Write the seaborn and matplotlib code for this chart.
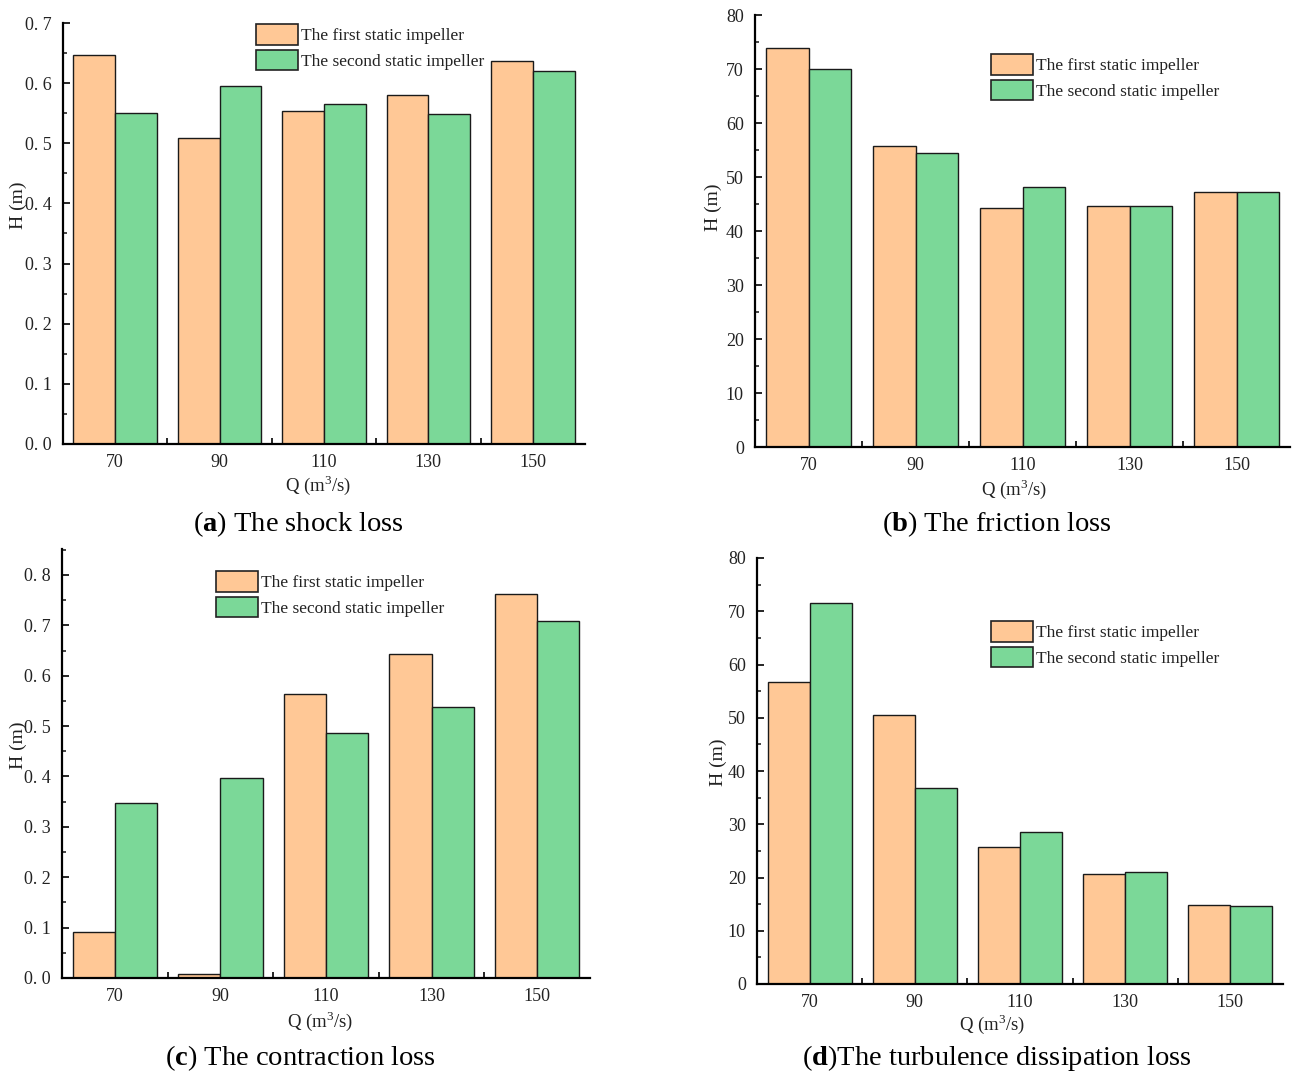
import matplotlib
matplotlib.use("Agg")
import matplotlib.pyplot as plt
from matplotlib.ticker import MultipleLocator, FixedLocator, FuncFormatter
import seaborn as sns
import pandas as pd

# Flow rates (m^3/s)
flow_rates = ["70", "90", "110", "130", "150"]
series_names = ["The first static impeller", "The second static impeller"]

# Head losses H (m) per loss type
shock_first = [0.647, 0.509, 0.553, 0.580, 0.637]
shock_second = [0.550, 0.596, 0.566, 0.549, 0.621]

friction_first = [73.8, 55.8, 44.3, 44.6, 47.15]
friction_second = [69.95, 54.4, 48.2, 44.6, 47.3]

contraction_first = [0.091, 0.008, 0.563, 0.643, 0.762]
contraction_second = [0.348, 0.397, 0.487, 0.538, 0.708]

turbulence_first = [56.7, 50.6, 25.8, 20.6, 14.8]
turbulence_second = [71.5, 36.9, 28.5, 21.0, 14.6]

captions = [
    r"($\mathbf{a}$) The shock loss",
    r"($\mathbf{b}$) The friction loss",
    r"($\mathbf{c}$) The contraction loss",
    r"($\mathbf{d}$)The turbulence dissipation loss",
]

colors = ["#FFC896", "#7BD898"]

sns.set_style("white")
plt.rcParams["font.family"] = ["Liberation Serif", "DejaVu Serif"]
plt.rcParams["mathtext.fontset"] = "custom"
plt.rcParams["mathtext.rm"] = "Liberation Serif"
plt.rcParams["mathtext.bf"] = "Liberation Serif:bold"

fig = plt.figure(figsize=(12.92, 10.72), dpi=100)
W, H = 1292, 1072


def px_axes(left, right, top, bottom):
    return fig.add_axes([left / W, 1 - bottom / H, (right - left) / W, (bottom - top) / H])


def build_frame(first, second):
    return pd.DataFrame({
        "Q": flow_rates * 2,
        "H": list(first) + list(second),
        "series": [series_names[0]] * 5 + [series_names[1]] * 5,
    })


panels = [
    dict(first=shock_first, second=shock_second, box=(63, 585, 23, 444),
         ylim=(0, 0.7), major=0.1, minor=0.05, fmt="dec",
         legend=(256, 24), ylab=(18, 205), xlab=(318, 485), cap=(298, 524)),
    dict(first=friction_first, second=friction_second, box=(755, 1290, 15, 447),
         ylim=(0, 80), major=10, minor=5, fmt="int",
         legend=(991, 54), ylab=(713, 207), xlab=(1014, 489), cap=(997, 524)),
    dict(first=contraction_first, second=contraction_second, box=(62, 590, 549, 978),
         ylim=(0, 0.8516), major=0.1, minor=0.05, fmt="dec",
         legend=(216, 571), ylab=(18, 745), xlab=(320, 1021), cap=(300, 1058)),
    dict(first=turbulence_first, second=turbulence_second, box=(757, 1283, 558, 984),
         ylim=(0, 80), major=10, minor=5, fmt="int",
         legend=(991, 621), ylab=(718, 762), xlab=(992, 1024), cap=(997, 1058)),
]

text_color = "#222222"

for p, cap in zip(panels, captions):
    left, right, top, bottom = p["box"]
    ax = px_axes(left, right, top, bottom)
    df = build_frame(p["first"], p["second"])
    sns.barplot(data=df, x="Q", y="H", hue="series", palette=colors,
                width=0.8, edgecolor="#1a1a1a", linewidth=1.0, ax=ax,
                legend=True, saturation=1)
    ax.set_xlim(-0.5, 4.5)
    ax.set_ylim(*p["ylim"])
    for s in ["top", "right"]:
        ax.spines[s].set_visible(False)
    for s in ["left", "bottom"]:
        ax.spines[s].set_color("black")
        ax.spines[s].set_linewidth(1.6)

    ax.yaxis.set_major_locator(MultipleLocator(p["major"]))
    ax.yaxis.set_minor_locator(MultipleLocator(p["minor"]))
    if p["fmt"] == "dec":
        ax.yaxis.set_major_formatter(FuncFormatter(lambda v, _: f"{v:.1f}".replace(".", ". ")))
    else:
        ax.yaxis.set_major_formatter(FuncFormatter(lambda v, _: f"{v:.0f}"))
    ax.tick_params(axis="y", which="major", direction="in", length=5, width=1.4,
                   labelsize=13, labelcolor=text_color, pad=8, left=True)
    ax.tick_params(axis="y", which="minor", direction="in", length=3, width=1.2, left=True)
    ax.xaxis.set_minor_locator(FixedLocator([0.5, 1.5, 2.5, 3.5]))
    ax.tick_params(axis="x", which="major", length=0, labelsize=13,
                   labelcolor=text_color, pad=7)
    ax.tick_params(axis="x", which="minor", direction="in", length=4, width=1.4, bottom=True)

    ax.set_xlabel("")
    ax.set_ylabel("")

    leg = ax.legend(loc="upper left",
                    bbox_to_anchor=((p["legend"][0] - left) / (right - left),
                                    1 - (p["legend"][1] - top) / (bottom - top)),
                    frameon=False, fontsize=12.5, handlelength=2.4, handleheight=1.45,
                    handletextpad=0.2, borderaxespad=0, borderpad=0, labelspacing=0.3)
    for t in leg.get_texts():
        t.set_color(text_color)
    for h in leg.legend_handles:
        h.set_edgecolor("#222222")
        h.set_linewidth(1.2)

    fig.text(p["ylab"][0] / W, 1 - p["ylab"][1] / H, "H (m)", rotation=90,
             ha="center", va="center", fontsize=14, color=text_color)
    fig.text(p["xlab"][0] / W, 1 - p["xlab"][1] / H, r"Q (m$^3$/s)",
             ha="center", va="center", fontsize=13.5, color=text_color)
    fig.text(p["cap"][0] / W, 1 - p["cap"][1] / H, cap,
             ha="center", va="center", fontsize=20.5, color="black")

fig.savefig("out.png", dpi=100, facecolor="white")
